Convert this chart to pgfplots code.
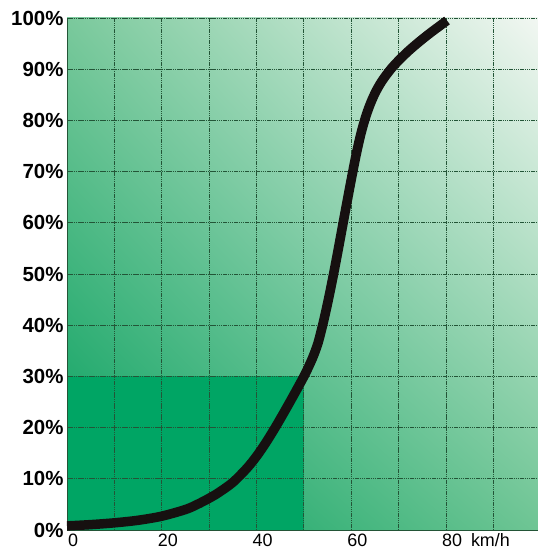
\documentclass[border=0pt]{standalone}
\usepackage{pgfplots}
\pgfplotsset{compat=1.18}
\usetikzlibrary{shadings}
\usepackage{fontspec}
\setmainfont{Liberation Sans}
\definecolor{gridgreen}{RGB}{35,85,55}
\definecolor{boxgreen}{RGB}{0,165,100}
\definecolor{cLL}{RGB}{0,158,92}
\definecolor{cLR}{RGB}{110,197,148}
\definecolor{cUL}{RGB}{122,201,156}
\definecolor{cUR}{RGB}{242,247,242}
\definecolor{curveblack}{RGB}{22,16,16}

\begin{document}
\begin{tikzpicture}
\begin{axis}[
    scale only axis, width=471bp, height=512bp,
    xmin=0, xmax=99.4, ymin=0, ymax=100,
    set layers, clip=false,
    axis lines=left, axis line style={-, draw=gridgreen, line width=0.8bp},
    xtick={0,10,...,90},
    xticklabels={0,,20,,40,,60,,80\rlap{\hspace{9bp}km/h},},
    ytick={0,10,...,100},
    yticklabels={0\%,10\%,20\%,30\%,40\%,50\%,60\%,70\%,80\%,90\%,100\%},
    major tick length=0pt,
    grid=major,
    major grid style={draw=gridgreen, line width=0.9bp, dash pattern=on 1.5bp off 0.7bp},
    xticklabel style={font=\fontsize{18}{18}\selectfont, xshift=6bp},
    yticklabel style={font=\bfseries\fontsize{20.5}{20.5}\selectfont},
]
    % background gradient
    \addplot[on layer=axis background, draw=none,
        lower left=cLL, lower right=cLR, upper left=cUL, upper right=cUR]
        coordinates {(0,100) (99.4,100)} \closedcycle;
    % dark block under 50 km/h and 30%
    \addplot[on layer=axis background, draw=none, fill=boxgreen]
        coordinates {(0,30) (50,30)} \closedcycle;
    \addplot[smooth, line width=9.5bp, color=curveblack]
        coordinates {
            (0,0.8) (5,1.05) (10,1.4) (15,1.9) (20,2.7) (25,4.0) (27.5,5.0)
            (30,6.2) (32,7.3) (35,9.3) (38,12.1) (40,14.4) (42,17.1)
            (44,20.1) (46,23.3) (48,26.6) (50,30.0) (51,31.9) (52,34.0)
            (53,36.6) (54,40.2) (55,44.3) (56,48.8) (57,53.6) (58,58.6)
            (59,63.6) (60,68.5) (61,73.2) (62,77.3) (63,80.6) (64,83.2)
            (65,85.3) (66,87.0) (67,88.4) (68.5,90.2) (70,91.7) (72,93.5)
            (74,95.1) (76,96.6) (78,98.0) (80.2,99.5)
        };
\end{axis}
\pgfresetboundingbox
\path[use as bounding box] ([xshift=-67bp,yshift=-27bp]current axis.south west)
    rectangle ([yshift=18bp]current axis.north east);
\end{tikzpicture}
\end{document}
